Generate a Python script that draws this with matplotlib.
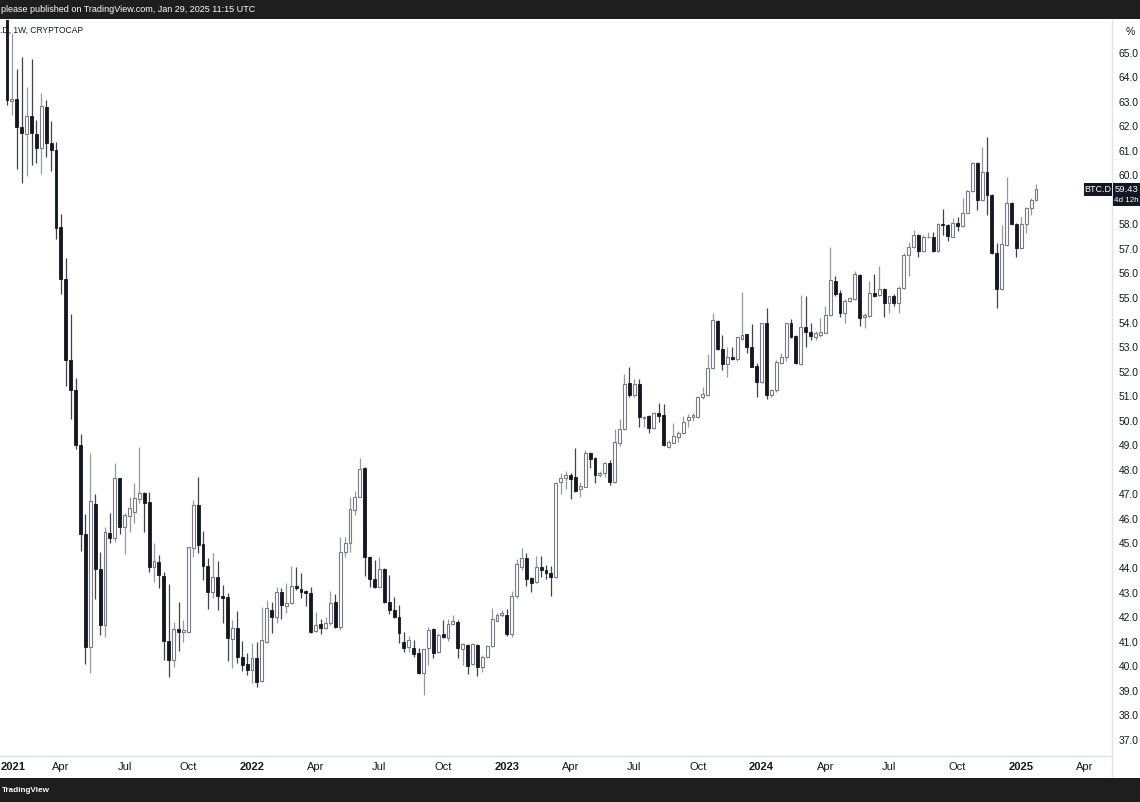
import matplotlib
matplotlib.use("Agg")
import matplotlib.pyplot as plt
import numpy as np
import pandas as pd
from matplotlib.patches import Rectangle

# ---------------- data (weekly BTC.D candles, first bar week of 2021-01-18) ----------------
start_date = "2021-01-18"
opens = [67.20, 63.02, 63.10, 61.95, 61.70, 62.40, 61.70, 61.11, 62.79, 61.33,
         61.02, 57.90, 55.76, 52.46, 51.27, 49.01, 45.40, 40.80, 46.60, 43.98,
         41.68, 45.44, 45.21, 47.66, 45.66, 46.12, 46.30, 46.80, 47.07, 46.70,
         44.03, 44.26, 43.68, 41.03, 40.25, 41.50, 41.41, 41.41, 44.80, 46.57,
         44.98, 44.10, 43.04, 43.65, 42.86, 42.83, 41.10, 41.55, 40.36, 40.08,
         39.85, 40.32, 39.40, 41.00, 42.30, 42.00, 43.01, 42.47, 42.56, 43.28,
         43.15, 43.07, 42.99, 41.45, 41.71, 41.55, 41.75, 42.60, 41.61, 44.66,
         45.03, 46.36, 46.90, 48.06, 44.46, 43.54, 43.24, 43.96, 42.63, 42.29,
         41.99, 41.00, 40.77, 40.73, 40.55, 39.74, 40.73, 41.50, 40.59, 41.30,
         41.14, 41.72, 41.82, 40.69, 40.87, 40.09, 40.87, 39.98, 40.36, 40.82,
         41.86, 42.08, 42.09, 41.31, 42.86, 44.05, 44.40, 43.58, 43.45, 44.05,
         43.92, 43.81, 43.62, 47.52, 47.66, 47.79, 47.70, 47.21, 47.31, 48.70,
         48.47, 47.79, 47.88, 48.29, 47.52, 49.08, 49.65, 51.53, 51.05, 51.50,
         50.12, 50.19, 49.69, 50.33, 50.23, 48.94, 49.11, 49.35, 49.51, 50.05,
         50.15, 50.17, 50.98, 51.05, 52.14, 54.08, 52.94, 52.31, 52.61, 52.50,
         53.32, 53.52, 53.02, 52.23, 51.59, 53.97, 51.05, 51.25, 52.36, 52.58,
         53.97, 53.45, 52.31, 53.81, 53.63, 53.42, 53.49, 53.59, 54.31, 55.69,
         55.19, 54.38, 54.89, 54.95, 55.94, 54.21, 54.27, 55.19, 55.12, 55.35,
         54.81, 55.08, 54.81, 55.39, 56.75, 57.07, 57.57, 56.93, 57.47, 57.50,
         56.93, 58.01, 57.97, 57.50, 58.07, 57.93, 58.47, 59.37, 60.49, 58.99,
         60.14, 59.19, 56.82, 55.35, 57.16, 58.88, 58.01, 57.02, 58.01, 58.65,
         58.99]
highs = [68.00, 65.79, 64.33, 64.82, 63.59, 64.74, 62.26, 63.35, 63.06, 62.23,
         61.34, 58.43, 56.61, 54.35, 51.75, 49.46, 46.19, 48.69, 47.03, 44.65,
         45.66, 46.25, 48.27, 47.67, 46.25, 46.88, 47.45, 48.92, 47.11, 47.11,
         45.04, 44.53, 43.85, 43.35, 41.81, 42.63, 41.88, 44.87, 46.77, 47.70,
         45.50, 44.39, 44.62, 44.30, 43.31, 42.97, 41.88, 42.25, 41.04, 40.52,
         40.96, 41.00, 42.43, 42.70, 42.63, 43.24, 43.18, 43.38, 44.08, 44.03,
         43.79, 43.10, 43.24, 42.22, 41.91, 42.02, 43.08, 42.94, 45.25, 45.25,
         46.90, 47.15, 48.47, 48.10, 44.50, 44.33, 44.44, 44.00, 43.72, 42.83,
         42.49, 41.41, 41.23, 41.07, 40.73, 40.72, 41.61, 41.55, 41.34, 41.88,
         41.91, 42.09, 41.88, 40.96, 40.90, 40.93, 40.90, 40.46, 40.87, 42.36,
         42.16, 42.29, 42.32, 43.08, 44.36, 44.80, 44.60, 43.62, 44.49, 44.49,
         44.12, 44.08, 47.50, 47.86, 47.97, 47.88, 48.88, 47.52, 48.81, 48.74,
         48.54, 47.97, 48.33, 48.40, 49.65, 50.06, 51.90, 52.18, 51.69, 51.69,
         50.20, 50.23, 50.37, 50.74, 50.68, 49.22, 49.90, 49.59, 50.19, 50.27,
         50.30, 51.00, 51.39, 52.72, 54.38, 54.10, 53.49, 52.99, 53.02, 53.42,
         55.26, 53.55, 53.94, 52.36, 53.99, 54.58, 51.28, 52.47, 52.75, 54.00,
         54.16, 53.48, 55.12, 55.08, 53.99, 53.67, 54.17, 54.67, 57.07, 55.90,
         55.33, 54.95, 55.03, 56.11, 55.98, 54.38, 55.70, 55.98, 56.30, 55.39,
         55.10, 55.16, 55.49, 56.82, 57.29, 57.77, 57.60, 57.57, 57.70, 57.70,
         58.04, 58.61, 58.01, 58.25, 58.31, 59.06, 59.40, 60.55, 60.55, 61.16,
         61.55, 59.23, 57.26, 57.97, 59.94, 58.92, 58.05, 58.28, 58.72, 59.06,
         59.64]
lows = [62.85, 62.44, 60.27, 59.70, 59.97, 60.41, 60.50, 60.05, 60.76, 60.17,
        57.40, 55.16, 51.40, 50.07, 48.84, 44.69, 40.09, 39.74, 42.75, 41.27,
        41.20, 45.01, 45.07, 45.39, 44.57, 45.48, 45.85, 46.66, 45.48, 43.85,
        43.45, 43.18, 40.25, 39.57, 39.98, 40.63, 41.00, 41.34, 44.44, 44.60,
        43.52, 42.35, 42.76, 42.31, 41.75, 40.23, 39.92, 40.12, 39.82, 39.64,
        39.33, 39.17, 39.37, 40.96, 41.34, 41.75, 41.91, 42.18, 42.54, 43.11,
        42.77, 42.45, 41.35, 41.41, 41.30, 41.50, 41.68, 41.55, 41.48, 44.44,
        44.66, 46.16, 46.90, 43.68, 43.22, 43.17, 43.22, 42.59, 42.13, 41.95,
        40.96, 40.59, 40.59, 40.39, 39.68, 38.83, 40.05, 40.32, 40.55, 41.17,
        41.03, 41.68, 40.32, 40.05, 39.68, 40.05, 39.60, 39.78, 40.32, 40.80,
        41.86, 42.02, 41.23, 41.20, 42.77, 43.92, 43.27, 43.04, 43.40, 43.62,
        43.54, 42.86, 43.58, 47.02, 47.21, 46.80, 47.11, 46.88, 47.29, 48.06,
        47.45, 47.72, 47.70, 47.40, 47.45, 48.97, 49.62, 50.96, 50.98, 49.76,
        49.76, 49.51, 49.65, 49.96, 48.97, 48.88, 49.08, 49.15, 49.46, 49.76,
        50.00, 50.10, 50.87, 51.00, 52.10, 52.88, 52.07, 51.77, 52.47, 52.45,
        53.29, 52.77, 52.18, 50.98, 51.55, 50.87, 50.98, 51.18, 52.31, 52.45,
        53.36, 52.31, 52.27, 53.02, 53.29, 53.29, 53.42, 53.56, 54.27, 55.08,
        54.21, 53.97, 54.85, 54.92, 53.86, 53.77, 54.24, 55.05, 55.08, 54.24,
        54.38, 54.67, 54.40, 55.35, 55.90, 57.02, 56.66, 56.89, 57.43, 56.89,
        56.89, 57.57, 57.33, 57.47, 57.74, 57.90, 58.45, 59.33, 58.58, 58.96,
        58.38, 56.79, 54.58, 55.33, 57.12, 57.98, 56.66, 57.00, 57.66, 58.38,
        58.96]
closes = [63.06, 63.12, 61.95, 61.73, 62.40, 61.73, 61.11, 62.82, 61.33, 61.02,
          57.84, 55.76, 52.46, 51.27, 49.01, 45.40, 40.80, 46.75, 43.98, 41.70,
          45.46, 45.21, 47.66, 45.66, 46.16, 46.43, 46.84, 47.07, 46.66, 44.05,
          44.30, 43.72, 41.04, 40.25, 41.50, 41.41, 41.47, 44.85, 46.57, 44.94,
          44.08, 43.04, 43.65, 42.86, 42.80, 41.14, 41.55, 40.36, 40.05, 39.85,
          40.32, 39.37, 41.07, 42.36, 41.99, 43.01, 42.49, 42.56, 43.28, 43.20,
          43.04, 42.97, 41.41, 41.68, 41.55, 41.75, 42.56, 41.59, 44.64, 45.03,
          46.39, 46.90, 48.02, 44.44, 43.54, 43.24, 43.95, 42.63, 42.29, 42.02,
          41.37, 40.73, 41.07, 40.50, 39.71, 40.69, 41.48, 40.55, 41.27, 41.20,
          41.72, 41.86, 40.73, 40.91, 40.01, 40.91, 39.96, 40.39, 40.82, 41.91,
          42.09, 42.16, 41.31, 42.85, 44.16, 44.40, 43.54, 43.38, 44.05, 43.92,
          43.79, 43.65, 47.48, 47.68, 47.79, 47.61, 47.15, 47.34, 48.67, 48.43,
          47.79, 47.88, 48.29, 47.52, 49.15, 49.65, 51.50, 51.05, 51.50, 50.14,
          50.17, 49.69, 50.33, 50.19, 49.01, 49.15, 49.38, 49.51, 49.96, 50.17,
          50.22, 50.96, 51.09, 52.14, 54.10, 52.91, 52.31, 52.58, 52.53, 53.40,
          53.48, 53.02, 52.20, 51.59, 53.97, 51.05, 51.25, 52.41, 52.58, 53.97,
          53.42, 52.34, 53.81, 53.63, 53.45, 53.56, 53.63, 54.31, 55.73, 55.16,
          54.40, 54.89, 54.99, 55.98, 54.17, 54.31, 55.19, 55.08, 55.35, 54.81,
          55.08, 54.81, 55.39, 56.75, 57.07, 57.57, 56.93, 57.50, 57.50, 56.93,
          58.01, 57.97, 57.53, 58.07, 57.93, 58.47, 59.37, 60.49, 58.99, 60.14,
          59.19, 56.82, 55.35, 57.20, 58.88, 58.01, 57.02, 58.01, 58.65, 58.99,
          59.43]

y_ticks = list(range(37, 66))
y_hidden_tick = 59            # covered by the last-price label in the reference
x_label_months = ["2021-04-01", "2021-07-01", "2021-10-01", "2022-01-01", "2022-04-01",
                  "2022-07-01", "2022-10-01", "2023-01-01", "2023-04-01", "2023-07-01",
                  "2023-10-01", "2024-01-01", "2024-04-01", "2024-07-01", "2024-10-01",
                  "2025-01-01", "2025-04-01"]
symbol_legend = ".D, 1W, CRYPTOCAP"
header_text = "please published on TradingView.com, Jan 29, 2025 11:15 UTC"
last_price_text = "59.43"
countdown_text = "4d 12h"

# ---------------- style ----------------
W, H, DPI = 1140, 802, 100
FONT = ["Liberation Sans", "DejaVu Sans"]
plt.rcParams["font.family"] = FONT
TXT = "#131722"
DOWN = "#131722"
UP_EDGE = "#787b86"
UP_WICK = "#9598a1"
DOWN_WICK = "#40434d"
GRIDLINE = "#e0e3eb"
BANNER = "#1e1e1e"

X0_PX, STEP_PX = 7.0, 4.9            # pixel position of bar 0 and bar spacing
PLOT_L, PLOT_R, PLOT_T, PLOT_B = 0, 1112, 20, 756
Y_TOP, Y_BOT = 66.324, 36.344

fig = plt.figure(figsize=(W / DPI, H / DPI), dpi=DPI, facecolor="white")
ax = fig.add_axes([PLOT_L / W, 1 - PLOT_B / H, (PLOT_R - PLOT_L) / W, (PLOT_B - PLOT_T) / H])
ax.set_facecolor("white")
ax.set_xlim((PLOT_L - X0_PX) / STEP_PX, (PLOT_R - X0_PX) / STEP_PX)
ax.set_ylim(Y_BOT, Y_TOP)

n = len(opens)
idx = np.arange(n)
body_w = 0.6
for i in idx:
    o, h, l, c = opens[i], highs[i], lows[i], closes[i]
    up = c >= o
    lo_w, hi_w = min(l, o, c), max(h, o, c)
    ax.vlines(i, lo_w, hi_w, color=UP_WICK if up else DOWN_WICK, lw=0.9, zorder=2)
    b0, bh = min(o, c), max(abs(c - o), 0.035)
    if up:
        ax.add_patch(Rectangle((i - body_w / 2, b0), body_w, bh, facecolor="white",
                               edgecolor=UP_EDGE, lw=0.8, zorder=3))
    else:
        ax.add_patch(Rectangle((i - body_w / 2, b0), body_w, bh, facecolor=DOWN,
                               edgecolor=DOWN, lw=0.6, zorder=3))

# spines
for s in ["top", "left"]:
    ax.spines[s].set_visible(False)
for s in ["right", "bottom"]:
    ax.spines[s].set_color(GRIDLINE)
    ax.spines[s].set_linewidth(1.0)

# y axis on right
ax.yaxis.tick_right()
ax.set_yticks(y_ticks)
ax.set_yticklabels(["" if v == y_hidden_tick else f"{v:.1f}" for v in y_ticks])
ax.tick_params(axis="y", length=0, pad=5.0, labelsize=7.4, labelcolor=TXT)

# x axis month / year labels at first weekly bar of each month
start = pd.Timestamp(start_date)
tick_pos, tick_lab, tick_bold = [], [], []
for m in x_label_months:
    d = pd.Timestamp(m)
    k = int(np.ceil((d - start).days / 7))
    tick_pos.append(k)
    if d.month == 1:
        tick_lab.append(str(d.year)); tick_bold.append(True)
    else:
        tick_lab.append(d.strftime("%b")); tick_bold.append(False)
ax.set_xticks(tick_pos)
ax.set_xticklabels(tick_lab)
ax.tick_params(axis="x", length=0, pad=4.5, labelsize=8, labelcolor=TXT)
for lab, b in zip(ax.get_xticklabels(), tick_bold):
    if b:
        lab.set_fontweight("bold")

# 2021 label: its bar lies just left of the visible pane, so keep it at the left edge
fig.text(1 / W, 1 - 767 / H, "2021", fontsize=8, fontweight="bold",
         color=TXT, ha="left", va="center")

# price-scale separator extending down to the bottom banner
fig.add_artist(plt.Line2D([PLOT_R / W, PLOT_R / W], [1 - 778 / H, 1 - PLOT_B / H],
                          color=GRIDLINE, lw=1.0, transform=fig.transFigure))

# top and bottom banners
fig.add_artist(Rectangle((0, 1 - 19 / H), 1, 19 / H, transform=fig.transFigure,
                         facecolor=BANNER, edgecolor="none", zorder=5))
fig.add_artist(Rectangle((0, 0), 1, 24 / H, transform=fig.transFigure,
                         facecolor=BANNER, edgecolor="none", zorder=5))
hdr = fig.text(1 / W, 1 - 10 / H, header_text, color="white", fontsize=8,
               ha="left", va="center", zorder=6)
logo = fig.text(2 / W, 12 / H, "TradingView", color="white", fontsize=8, fontweight="bold",
                ha="left", va="center", zorder=6)

# legend in the top-left corner (drawn under candles)
leg = ax.text(0.0, 1 - (30 - PLOT_T) / (PLOT_B - PLOT_T), symbol_legend, transform=ax.transAxes,
              color=TXT, fontsize=8, ha="left", va="center", zorder=1)

# percent sign on the scale
fig.text(1130 / W, 1 - 32 / H, "%", color=TXT, fontsize=7.5, ha="center", va="center")

# BTC.D tag and last price label
fig.add_artist(Rectangle((1084 / W, 1 - 196 / H), 28 / W, 13 / H, transform=fig.transFigure,
                         facecolor="#131722", edgecolor="none", zorder=6))
fig.text(1098 / W, 1 - 189.5 / H, "BTC.D", color="white", fontsize=6.5, ha="center",
         va="center", zorder=7)
fig.add_artist(Rectangle((1113 / W, 1 - 206 / H), 27 / W, 23 / H, transform=fig.transFigure,
                         facecolor="#131722", edgecolor="none", zorder=6))
fig.text(1114.5 / W, 1 - 190 / H, last_price_text, color="white", fontsize=6.8, ha="left",
         va="center", zorder=7)
fig.text(1114.5 / W, 1 - 200.5 / H, countdown_text, color="white", fontsize=5.8, ha="left",
         va="center", zorder=7)

# fit header / legend widths to the reference
fig.canvas.draw()
r = fig.canvas.get_renderer()
for t, target in [(hdr, 255.0), (leg, 83.0), (logo, 48.0)]:
    wpx = t.get_window_extent(r).width
    t.set_fontsize(t.get_fontsize() * target / wpx)

fig.savefig("out.png", dpi=DPI, facecolor="white")
